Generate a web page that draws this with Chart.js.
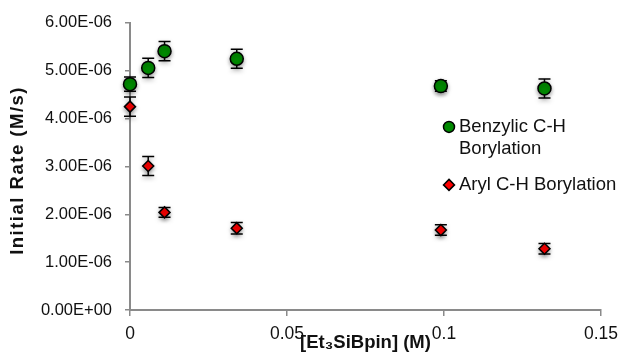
<!DOCTYPE html>
<html>
<head>
<meta charset="utf-8">
<script src="https://cdn.jsdelivr.net/npm/chart.js@4"></script>
<style>
  html, body { margin: 0; padding: 0; background: #fff; }
  #wrap { width: 622px; height: 359px; }
</style>
</head>
<body>
<div id="wrap"><canvas id="myChart"></canvas></div>
<script>
"use strict";

const concentration = [0, 0.0058, 0.011, 0.034, 0.099, 0.132];
const benzylicRate = [4.72e-6, 5.06e-6, 5.41e-6, 5.25e-6, 4.68e-6, 4.63e-6];
const benzylicErr = [0.15e-6, 0.2e-6, 0.2e-6, 0.2e-6, 0.11e-6, 0.2e-6];
const arylRate = [4.25e-6, 3.01e-6, 2.04e-6, 1.71e-6, 1.67e-6, 1.28e-6];
const arylErr = [0.2e-6, 0.2e-6, 0.1e-6, 0.12e-6, 0.11e-6, 0.11e-6];
const seriesNames = ['Benzylic C-H Borylation', 'Aryl C-H Borylation'];
const legendLines = [['Benzylic C-H', 'Borylation'], ['Aryl C-H Borylation']];
const xTitle = '[Et\u2083SiBpin] (M)';
const yTitle = 'Initial Rate (M/s)';

const FONT = "'Liberation Sans', Arial, Helvetica, sans-serif";
const TEXT = '#111';

function toPoints(ys) {
    return concentration.map((x, i) => ({ x: x, y: ys[i] }));
}

function sciLabel(v) {
    if (Math.abs(v) < 1e-12) return '0.00E+00';
    const parts = v.toExponential(2).split('e');
    const exp = parseInt(parts[1], 10);
    const sign = exp < 0 ? '-' : '+';
    return parts[0] + 'E' + sign + String(Math.abs(exp)).padStart(2, '0');
}

// error bars under the markers, plus the soft shadow Excel puts on them
const errorBars = {
    id: 'errorBars',
    beforeDatasetsDraw(chart) {
        const ctx = chart.ctx;
        const xs = chart.scales.x;
        const ys = chart.scales.y;
        const errs = [benzylicErr, arylErr];
        ctx.save();
        ctx.shadowColor = 'rgba(0,0,0,0.35)';
        ctx.shadowBlur = 4;
        ctx.shadowOffsetY = 2;
        ctx.strokeStyle = '#000';
        ctx.lineWidth = 1.5;
        chart.data.datasets.forEach((ds, d) => {
            ds.data.forEach((p, i) => {
                const px = xs.getPixelForValue(p.x);
                const top = ys.getPixelForValue(p.y + errs[d][i]);
                const bot = ys.getPixelForValue(p.y - errs[d][i]);
                ctx.beginPath();
                ctx.moveTo(px, top);
                ctx.lineTo(px, bot);
                ctx.moveTo(px - 6, top);
                ctx.lineTo(px + 6, top);
                ctx.moveTo(px - 6, bot);
                ctx.lineTo(px + 6, bot);
                ctx.stroke();
            });
        });
        ctx.restore();
        ctx.save();
        ctx.shadowColor = 'rgba(0,0,0,0.35)';
        ctx.shadowBlur = 4;
        ctx.shadowOffsetY = 2;
    },
    afterDatasetsDraw(chart) {
        chart.ctx.restore();
    }
};

// legend inside the plot on the right, with a wrapped label; y title drawn by hand
const sideLegend = {
    id: 'sideLegend',
    afterDraw(chart) {
        const ctx = chart.ctx;
        const area = chart.chartArea;
        const mx = area.left + 319;
        const rows = [area.top + 104, area.top + 162];
        ctx.save();
        ctx.font = '18.5px ' + FONT;
        ctx.textBaseline = 'middle';
        chart.data.datasets.forEach((ds, d) => {
            const y = rows[d];
            ctx.lineWidth = 1.5;
            ctx.strokeStyle = '#000';
            ctx.fillStyle = ds.backgroundColor;
            ctx.beginPath();
            if (ds.pointStyle === 'rectRot') {
                ctx.moveTo(mx, y - 5.5);
                ctx.lineTo(mx + 5.5, y);
                ctx.lineTo(mx, y + 5.5);
                ctx.lineTo(mx - 5.5, y);
                ctx.closePath();
            } else {
                ctx.arc(mx, y, 5.5, 0, Math.PI * 2);
            }
            ctx.fill();
            ctx.stroke();
            ctx.fillStyle = TEXT;
            legendLines[d].forEach((line, k) => {
                ctx.fillText(line, mx + 10, y + k * 22);
            });
        });

        ctx.translate(18, (area.top + area.bottom) / 2 + 4);
        ctx.rotate(-Math.PI / 2);
        ctx.font = 'bold 18.5px ' + FONT;
        ctx.letterSpacing = '1.5px';
        ctx.textAlign = 'center';
        ctx.fillStyle = TEXT;
        ctx.fillText(yTitle, 0, 0);
        ctx.restore();
    }
};

const ctx = document.getElementById('myChart');

new Chart(ctx, {
    type: 'scatter',
    data: {
        datasets: [{
            label: seriesNames[0],
            data: toPoints(benzylicRate),
            backgroundColor: '#008a00',
            borderColor: '#000',
            borderWidth: 1.5,
            pointStyle: 'circle',
            pointRadius: 6.5,
            pointHoverRadius: 6.5,
            clip: false
        }, {
            label: seriesNames[1],
            data: toPoints(arylRate),
            backgroundColor: '#ff0000',
            borderColor: '#000',
            borderWidth: 1.5,
            pointStyle: 'rectRot',
            pointRadius: 5.5,
            pointHoverRadius: 5.5,
            clip: false
        }]
    },
    options: {
        responsive: true,
        maintainAspectRatio: false,
        animation: false,
        layout: { padding: { top: 12, right: 21, left: 0, bottom: 0 } },
        plugins: {
            legend: { display: false },
            tooltip: { enabled: false }
        },
        scales: {
            x: {
                type: 'linear',
                min: 0,
                max: 0.15,
                afterFit(scale) {
                    scale.height = 49;
                    scale.paddingRight = 0;
                },
                ticks: {
                    stepSize: 0.05,
                    color: TEXT,
                    font: { family: FONT, size: 17.5 },
                    padding: 8,
                    callback: v => String(Number(v.toFixed(2)))
                },
                grid: { drawOnChartArea: false, tickLength: 6, color: '#8a8a8a', lineWidth: 1.5 },
                border: { color: '#8a8a8a', width: 2 },
                title: {
                    display: true,
                    text: xTitle,
                    color: TEXT,
                    font: { family: FONT, size: 18.5, weight: 'bold' },
                    padding: { top: 0, bottom: 5 }
                }
            },
            y: {
                min: 0,
                max: 6e-6,
                afterFit(scale) { scale.width = 130; },
                ticks: {
                    stepSize: 1e-6,
                    color: TEXT,
                    font: { family: FONT, size: 16.5 },
                    padding: 13,
                    callback: v => sciLabel(v)
                },
                grid: { drawOnChartArea: false, tickLength: 5, color: '#8a8a8a', lineWidth: 1.5 },
                border: { color: '#8a8a8a', width: 2 },
                title: { display: false }
            }
        }
    },
    plugins: [errorBars, sideLegend]
});
</script>
</body>
</html>
